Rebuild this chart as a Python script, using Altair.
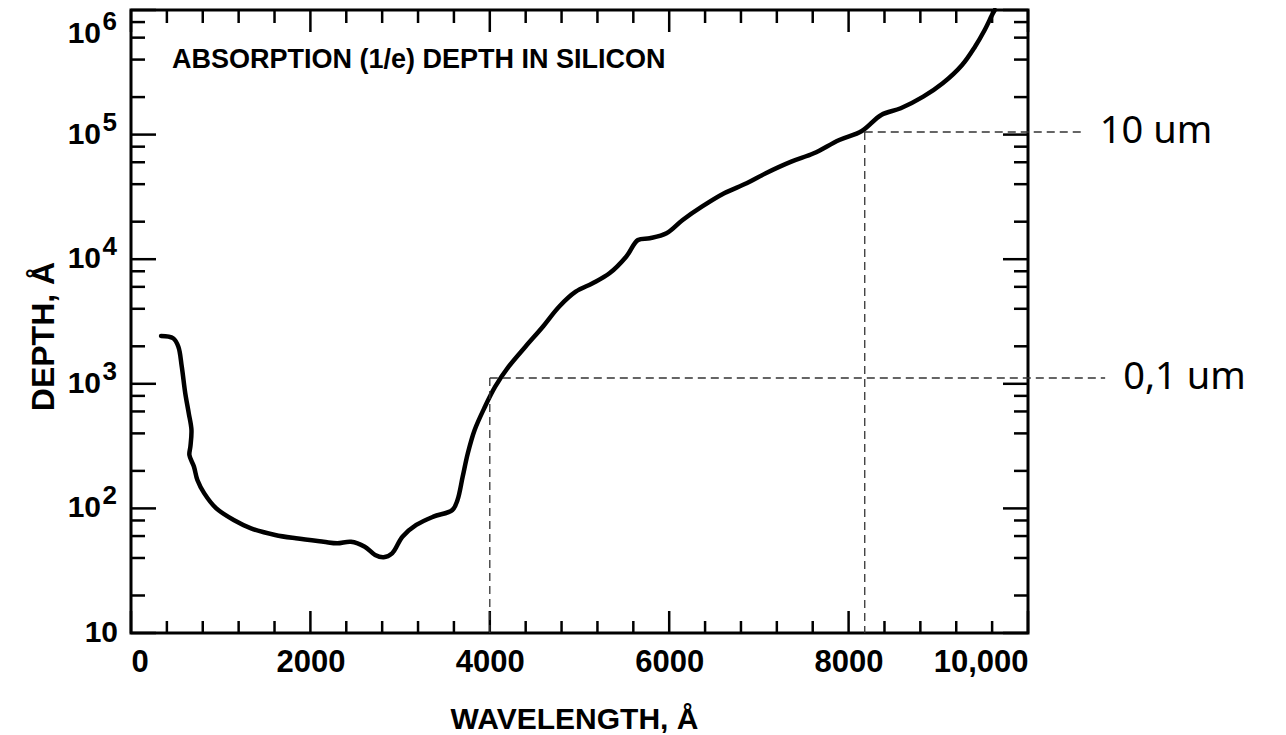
import altair as alt
import pandas as pd

# ---- data ----
wavelength = [335, 470, 528, 566, 605, 644, 674, 662, 651, 702,
              740, 817, 951, 1145, 1338, 1607, 1838, 2146, 2299, 2452,
              2606, 2721, 2816, 2911, 3026, 3180, 3371, 3583, 3640, 3698,
              3755, 3831, 3946, 4060, 4210, 4397, 4584, 4772, 4958, 5146,
              5334, 5520, 5652, 5783, 5970, 6150, 6364, 6613, 6863, 7077,
              7361, 7612, 7896, 8148, 8364, 8581, 8832, 9049, 9265, 9409,
              9517, 9608, 9630]
depth = [2420, 2320, 1985, 1372, 839, 580, 426, 313, 268, 216,
         169, 132, 100, 80.7, 69.2, 61.2, 57.5, 54.0, 52.5, 54.0,
         49.3, 42.3, 40.5, 43.6, 59.3, 73.6, 85.8, 97.1, 116.8, 180,
         277, 426, 655, 948, 1372, 1985, 2830, 4157, 5486, 6406,
         7706, 10470, 14260, 14720, 16140, 20640, 26380, 33810, 40660, 48930,
         60600, 70760, 90520, 106900, 143700, 162600, 201500, 258000, 362000, 507600,
         691000, 939000, 1000000]

x_major_ticks = [0, 2000, 4000, 6000, 8000, 10000]
x_minor_ticks = [400, 800, 1200, 1600, 2400, 2800, 3200, 3600, 4400, 4800,
                 5200, 5600, 6400, 6800, 7200, 7600, 8400, 8800, 9200, 9600]
y_major_ticks = [10, 100, 1000, 10000, 100000, 1000000]
y_tick_exponents = ["", "2", "3", "4", "5", "6"]
y_minor_ticks = [20, 40, 60, 80, 200, 400, 600, 800, 2000, 4000, 6000, 8000,
                 20000, 40000, 60000, 80000, 200000, 400000, 600000, 800000]

guide_wavelength = [4000, 8180]
guide_depth = [1113, 104900]
guide_end = [10860, 10600]
guide_labels = ["0,1 um", "10 um"]

chart_title = "ABSORPTION (1/e) DEPTH IN SILICON"
x_title = "WAVELENGTH, Å"
y_title = "DEPTH, Å"

# ---- build ----
W, H = 897, 623
FONT = "Liberation Sans"
WEIGHT = "bold"

curve_df = pd.DataFrame({"wavelength": wavelength, "depth": depth,
                         "idx": list(range(len(wavelength)))})
xs = alt.Scale(domain=[0, 10000], nice=False, zero=False)
ys = alt.Scale(type="log", domain=[10, 1000000], nice=False)

line = alt.Chart(curve_df).mark_line(
    color="black", strokeWidth=4.5, interpolate="catmull-rom",
    strokeCap="round", strokeJoin="round"
).encode(
    x=alt.X("wavelength:Q", scale=xs, axis=alt.Axis(
        values=x_major_ticks,
        labelExpr="datum.value >= 10000 ? format(datum.value, ',') : format(datum.value, 'd')",
        labelFlush=True, labelFontSize=31, labelFont=FONT, labelFontWeight=WEIGHT,
        labelColor="black", labelPadding=14, ticks=False, domain=False, grid=False,
        title=x_title, titleFont=FONT, titleFontSize=30, titleFontWeight=WEIGHT,
        titleColor="black", titleX=443, titleY=95, titleBaseline="alphabetic",
        titleAlign="center")),
    y=alt.Y("depth:Q", scale=ys, axis=alt.Axis(
        labels=False, ticks=False, domain=False, grid=False,
        title=y_title, titleFont=FONT, titleFontSize=32, titleFontWeight=WEIGHT,
        titleColor="black", titleX=-78, titleY=326, titleAngle=270,
        titleBaseline="alphabetic", titleAlign="center")),
    order="idx:Q",
)

xmaj = pd.DataFrame({"w": x_major_ticks})
xmin = pd.DataFrame({"w": x_minor_ticks})
ymaj = pd.DataFrame({"d": y_major_ticks})
ymin = pd.DataFrame({"d": y_minor_ticks})

def xticks(df, length, bottom=True):
    if bottom:
        yv, y2v = H, H - length
    else:
        yv, y2v = 0, length
    return alt.Chart(df).mark_rule(color="black", strokeWidth=2.5).encode(
        x=alt.X("w:Q", scale=xs, axis=None), y=alt.value(yv), y2=alt.value(y2v))

def yticks(df, length, left=True):
    if left:
        xv, x2v = 0, length
    else:
        xv, x2v = W, W - length
    return alt.Chart(df).mark_rule(color="black", strokeWidth=2.5).encode(
        y=alt.Y("d:Q", scale=ys, axis=None), x=alt.value(xv), x2=alt.value(x2v))

tick_layers = [
    xticks(xmaj, 22, True), xticks(xmaj, 22, False),
    xticks(xmin, 12, True), xticks(xmin, 13, False),
    yticks(ymaj, 25, True), yticks(ymaj, 25, False),
    yticks(ymin, 14, True), yticks(ymin, 14, False),
]

guide_df = pd.DataFrame({"w": guide_wavelength, "d": guide_depth,
                         "w_end": guide_end, "label": guide_labels})
dash_style = dict(color="#333333", strokeWidth=1.3, strokeDash=[8, 5])
guide_v = alt.Chart(guide_df).mark_rule(**dash_style).encode(
    x=alt.X("w:Q", scale=xs, axis=None),
    y=alt.Y("d:Q", scale=ys, axis=None),
    y2=alt.datum(10))
guide_h = alt.Chart(guide_df).mark_rule(**dash_style).encode(
    x=alt.X("w:Q", scale=xs, axis=None),
    x2="w_end:Q",
    y=alt.Y("d:Q", scale=ys, axis=None))
guide_text = alt.Chart(guide_df).mark_text(
    align="left", baseline="middle", dx=18, font="Noto Sans", fontSize=38,
    color="black"
).encode(
    x=alt.X("w_end:Q", scale=xs, axis=None),
    y=alt.Y("d:Q", scale=ys, axis=None),
    text="label:N")

ylab_df = pd.DataFrame({"d": y_major_ticks, "exp": y_tick_exponents})
mid_filter = "datum.exp != '' && datum.d < 1000000"
top_filter = "datum.d >= 1000000"

def ylabels(filt, shift):
    base = alt.Chart(ylab_df).transform_filter(filt).mark_text(
        align="right", baseline="middle", font=FONT, fontSize=30,
        fontWeight=WEIGHT, dy=shift, color="black"
    ).encode(y=alt.Y("d:Q", scale=ys, axis=None), x=alt.value(-30),
             text=alt.value("10"))
    exp = alt.Chart(ylab_df).transform_filter(filt).mark_text(
        align="right", baseline="middle", font=FONT, fontSize=26,
        fontWeight=WEIGHT, dy=shift - 12, color="black"
    ).encode(y=alt.Y("d:Q", scale=ys, axis=None), x=alt.value(-14),
             text="exp:N")
    return [base, exp]

ylab_plain = alt.Chart(ylab_df).transform_filter("datum.exp == ''").mark_text(
    align="right", baseline="middle", font=FONT, fontSize=30, fontWeight=WEIGHT,
    color="black"
).encode(y=alt.Y("d:Q", scale=ys, axis=None), x=alt.value(-13),
         text=alt.value("10"))

title_df = pd.DataFrame({"t": [chart_title]})
title_mark = alt.Chart(title_df).mark_text(
    align="left", baseline="alphabetic", font=FONT, fontSize=27,
    fontWeight=WEIGHT, color="black"
).encode(x=alt.value(41), y=alt.value(58), text="t:N")

chart = alt.layer(
    line, *tick_layers, guide_v, guide_h, guide_text,
    *ylabels(mid_filter, 0), *ylabels(top_filter, 24), ylab_plain, title_mark
).resolve_axis(
    x="independent", y="independent"
).properties(
    width=W, height=H,
    autosize=alt.AutoSizeParams(type="none"),
    padding={"left": 123, "top": 2, "right": 235, "bottom": 100},
).configure_view(stroke="black", strokeWidth=3)

chart.save("out.html", embed_options={"renderer": "svg", "actions": False})
